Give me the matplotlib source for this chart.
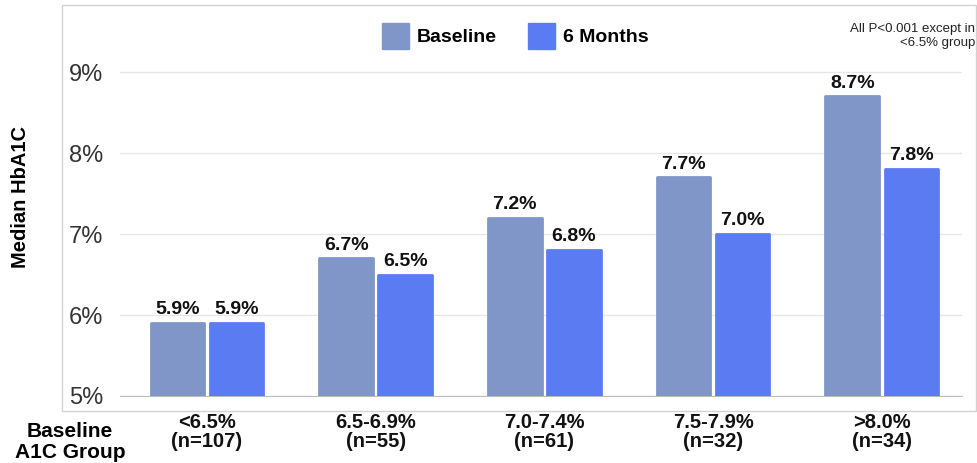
import matplotlib.pyplot as plt
from matplotlib.patches import Rectangle, Patch
import numpy as np

plt.rcParams['font.family'] = ['Liberation Sans', 'DejaVu Sans']

groups = ['<6.5%\n(n=107)', '6.5-6.9%\n(n=55)', '7.0-7.4%\n(n=61)', '7.5-7.9%\n(n=32)', '>8.0%\n(n=34)']
baseline = [5.9, 6.7, 7.2, 7.7, 8.7]
months6 = [5.9, 6.5, 6.8, 7.0, 7.8]
yticks = [5, 6, 7, 8, 9]

c_base = '#8196c8'
c_6m = '#5b7bf3'

fig = plt.figure(figsize=(9.77, 4.63), dpi=100)
W, H = 977, 463
ax = fig.add_axes([120 / W, (H - 396) / H, (962 - 120) / W, (396 - 5) / H])

# outer frame
fig.patches.append(Rectangle((62 / W, (H - 411) / H), (976 - 62) / W, (411 - 5) / H,
                             transform=fig.transFigure, fill=False, edgecolor='#d2d2d2', lw=1))

x = np.arange(len(groups))
off = 0.175
w = 0.318
ax.bar(x - off, [v - 5 for v in baseline], bottom=5, width=w, color=c_base,
       edgecolor=c_base, lw=2, joinstyle='round', zorder=3)
ax.bar(x + off, [v - 5 for v in months6], bottom=5, width=w, color=c_6m,
       edgecolor=c_6m, lw=2, joinstyle='round', zorder=3)

for xi, v in zip(x - off, baseline):
    ax.text(xi, v + 0.06, f'{v:.1f}%', ha='center', va='bottom', fontsize=14, fontweight='bold', color='#111')
for xi, v in zip(x + off, months6):
    ax.text(xi, v + 0.06, f'{v:.1f}%', ha='center', va='bottom', fontsize=14, fontweight='bold', color='#111')

ax.set_xlim(-0.515, 4.475)
ax.set_ylim(5, 9.83)
ax.set_yticks(yticks)
ax.set_yticklabels([f'{t}%' for t in yticks], fontsize=17, color='#333')
ax.set_xticks(x)
ax.set_xticklabels(groups, fontsize=14.5, fontweight='bold', color='#111', linespacing=1.05)
ax.tick_params(length=0, axis='both')
ax.tick_params(axis='y', pad=12)
ax.tick_params(axis='x', pad=12)
ax.grid(axis='y', color='#e6e6e6', lw=1, zorder=0)
for s in ['top', 'right', 'left']:
    ax.spines[s].set_visible(False)
ax.spines['bottom'].set_color('#bdbdbd')

fig.text(21 / W, 1 - 197 / H, 'Median HbA1C', rotation=90, ha='center', va='center',
         fontsize=14.5, fontweight='bold')
fig.text(70 / W, 1 - 442 / H, 'Baseline\nA1C Group', ha='center', va='center',
         fontsize=15, fontweight='bold', linespacing=1.1)
fig.text(975 / W, 1 - 36 / H, 'All P<0.001 except in\n<6.5% group', ha='right', va='center',
         fontsize=9.5, color='#222', multialignment='right')

handles = [Patch(color=c_base), Patch(color=c_6m)]
fig.legend(handles, ['Baseline', '6 Months'], loc='center', bbox_to_anchor=(515 / W, 1 - 36 / H),
           ncol=2, frameon=False, prop={'weight': 'bold', 'size': 14},
           handlelength=1.4, handleheight=1.7, handletextpad=0.4, columnspacing=1.6)

fig.savefig('out.png', dpi=100)
